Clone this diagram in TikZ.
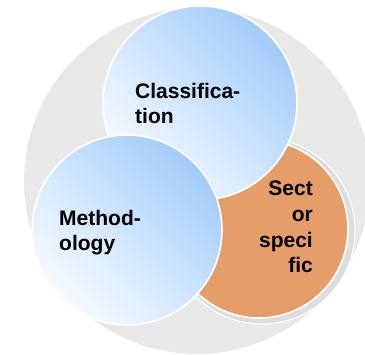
\documentclass[tikz,border=0pt]{standalone}
\usepackage{fontspec}
\setmainfont{Liberation Sans}
\usetikzlibrary{positioning,calc}
\definecolor{ringgray}{HTML}{E8E8E8}
\definecolor{shadegray}{HTML}{DDDDDD}
\definecolor{sectorange}{HTML}{E59D6A}
\definecolor{bubbleblue}{HTML}{A3CCFA}
\definecolor{bubblewhite}{HTML}{F8FBFF}
\tikzset{
    bubble/.style={circle, draw=white, line width=1.6pt, inner sep=0pt,
        top color=bubbleblue, bottom color=bubblewhite, shading angle=-45},
    sectbubble/.style={circle, draw=white, line width=1.6pt, inner sep=0pt,
        fill=sectorange},
    bubbletext/.style={font=\fontsize{21}{25.7}\selectfont\bfseries, inner sep=0pt}
}

\begin{document}
\begin{tikzpicture}[x=1pt, y=-1pt]
\useasboundingbox (0,0) rectangle (365,355);
\begin{scope}
\clip (0,0) rectangle (365,355);
\node[circle, fill=ringgray, minimum size=346pt, inner sep=0pt] (ring) at (197,181) {};
\end{scope}
\node[circle, fill=shadegray, draw=white, line width=1pt, minimum size=186pt, inner sep=0pt] (sectshadow) at (262,231) {};
\node[sectbubble, minimum size=178pt] (sector) at (259,229) {};
\node[bubble, minimum size=194pt] (classif) at (200,103) {};
\node[bubble, minimum size=190pt] (method) at (127,230) {};
% base of a multi-line node = baseline of its last line
\node[bubbletext, align=left, anchor=base west] (classiftext) at (135,124) {Classifica-\\tion};
\node[bubbletext, align=left, anchor=base west] (methodtext) at (59,251) {Method-\\ology};
\node[bubbletext, align=right, anchor=base east] (sectortext) at (313,273) {Sect\\or\\speci\\fic};
\end{tikzpicture}
\end{document}
